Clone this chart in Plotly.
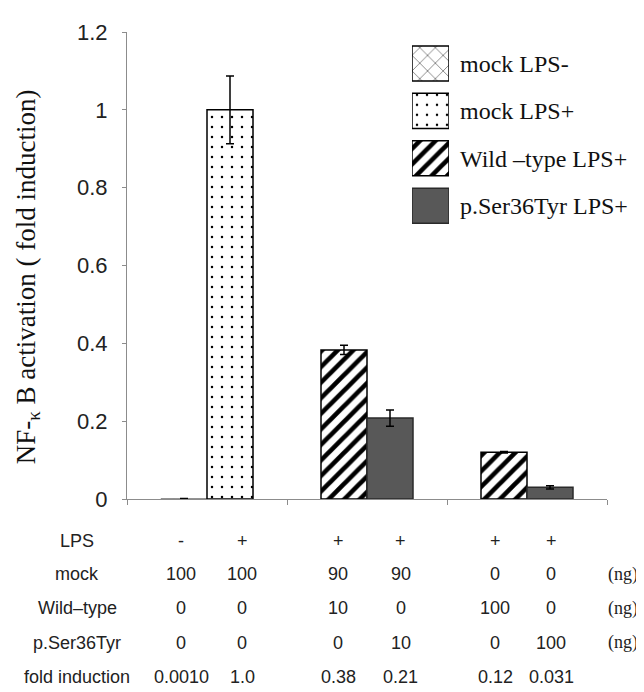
import plotly.graph_objects as go

# ---------------- data ----------------
groups = [0, 1, 2]
series_names = ["mock LPS-", "mock LPS+", "Wild \u2013type LPS+", "p.Ser36Tyr LPS+"]
mock_minus_x = [0]
mock_minus_y = [0.001]
mock_minus_err = [0.0]
mock_plus_x = [0]
mock_plus_y = [1.0]
mock_plus_err = [0.087]
wt_x = [1, 2]
wt_y = [0.383, 0.12]
wt_err = [0.012, 0.002]
mut_x = [1, 2]
mut_y = [0.208, 0.03]
mut_err = [0.021, 0.004]

row_labels = ["LPS", "mock", "Wild\u2013type", "p.Ser36Tyr", "fold induction"]
lps_row = ["-", "+", "+", "+", "+", "+"]
mock_row = ["100", "100", "90", "90", "0", "0"]
wt_row = ["0", "0", "10", "0", "100", "0"]
mut_row = ["0", "0", "0", "10", "0", "100"]
fold_row = ["0.0010", "1.0", "0.38", "0.21", "0.12", "0.031"]
unit_rows = ["", "(ng)", "(ng)", "(ng)", ""]

# ---------------- layout constants ----------------
# the page body has an 8px margin, so the figure starts at (8, 8) in the window
OX, OY = 8, 8
W, H = 644 - OX, 692 - OY
AX_L, AX_R, AX_T, AX_B = 127, 607, 21, 499          # plot area in window pixels
L, T = AX_L - OX, AX_T - OY
R, B = W - (AX_R - OX), H - (AX_B - OY)
PW, PH = AX_R - AX_L, AX_B - AX_T
BAR_W = 0.2875
col_x = [-0.16, 0.22, 0.82, 1.21, 1.80, 2.15]   # table column centres (x data units)
row_px = [542, 576, 611, 646, 681]               # table row centres (window pixels)


def px_x(p):
    return (p - AX_L) / PW


def px_y(p):
    return (AX_B - p) / PH


SERIF = "Liberation Serif"
SANS = "Liberation Sans"

styles = {
    "mock LPS-": dict(color="white", line=dict(color="black", width=1.5),
                      pattern=dict(shape="x", fgcolor="#707070", bgcolor="white", size=11,
                                   solidity=0.14, fgopacity=1)),
    "mock LPS+": dict(color="white", line=dict(color="black", width=1.5),
                      pattern=dict(shape=".", fgcolor="black", bgcolor="white", size=10,
                                   solidity=0.05, fgopacity=1)),
    "Wild \u2013type LPS+": dict(color="white", line=dict(color="black", width=1.5),
                      pattern=dict(shape="/", fgcolor="black", bgcolor="white", size=11,
                                   solidity=0.42, fgopacity=1)),
    "p.Ser36Tyr LPS+": dict(color="#585858", line=dict(color="#2a2a2a", width=1.5)),
}

err_style = dict(type="data", color="black", thickness=1.5, width=4, visible=True)

fig = go.Figure()


def add_series(name, xs, ys, errs, offset, line=None):
    mk = dict(styles[name])
    if line is not None:
        mk["line"] = line
    fig.add_trace(go.Bar(
        x=xs, y=ys, name=name, width=BAR_W, offset=offset,
        marker=mk,
        error_y=dict(array=errs, **err_style),
        showlegend=False,
    ))


add_series(series_names[0], mock_minus_x, mock_minus_y, mock_minus_err, -BAR_W,
           line=dict(color="#8c8c8c", width=1))
add_series(series_names[1], mock_plus_x, mock_plus_y, mock_plus_err, 0)
add_series(series_names[2], wt_x, wt_y, wt_err, -BAR_W)
add_series(series_names[3], mut_x, mut_y, mut_err, 0)

# legend patches drawn as bars in a small helper axis
for name in series_names:
    fig.add_trace(go.Bar(
        x=[1], y=[name], orientation="h", width=0.74,
        marker=styles[name], xaxis="x2", yaxis="y2",
        showlegend=False, hoverinfo="skip",
    ))

axis_col = "#8c8c8c"
fig.update_layout(
    width=W, height=H,
    margin=dict(l=L, r=R, t=T, b=B),
    paper_bgcolor="white", plot_bgcolor="white",
    barmode="overlay",
    showlegend=False,
    xaxis=dict(range=[-0.5, 2.5], tickvals=[-0.5, 0.5, 1.5, 2.5], ticktext=["", "", "", ""],
               ticks="outside", ticklen=5, tickcolor=axis_col, showline=True, linecolor=axis_col,
               linewidth=1, showgrid=False, zeroline=False, fixedrange=True),
    yaxis=dict(range=[0, 1.2], dtick=0.2, tick0=0, ticks="outside", ticklen=4, tickcolor=axis_col,
               showline=True, linecolor=axis_col, linewidth=1, showgrid=False, zeroline=False,
               tickfont=dict(family=SANS, size=22, color="#222"), ticklabelstandoff=10),
    xaxis2=dict(domain=[px_x(412), px_x(449)], range=[0, 1], visible=False,
                anchor="y2", fixedrange=True),
    yaxis2=dict(domain=[px_y(223), px_y(29)], type="category",
                categoryorder="array", categoryarray=series_names[::-1], anchor="x2", side="right",
                showline=False, showgrid=False, zeroline=False, ticks="",
                tickfont=dict(family=SERIF, size=24, color="#111"), ticklabelstandoff=10),
)

# y-axis title
fig.add_annotation(
    text="NF-<sub>\u03ba</sub> B activation ( fold induction)",
    xref="paper", yref="paper", x=px_x(28), y=px_y(272),
    textangle=-90, showarrow=False, xanchor="center", yanchor="middle",
    font=dict(family=SERIF, size=27, color="#111"),
)

# table below the chart
table_rows = [lps_row, mock_row, wt_row, mut_row, fold_row]
for r, (label, vals, unit) in enumerate(zip(row_labels, table_rows, unit_rows)):
    yp = px_y(row_px[r])
    fig.add_annotation(text=label, xref="paper", yref="paper", x=px_x(77), y=yp,
                       showarrow=False, xanchor="center", yanchor="middle",
                       font=dict(family=SANS, size=18, color="#222"))
    for cx, v in zip(col_x, vals):
        fig.add_annotation(text=v, xref="x", yref="paper", x=cx, y=yp,
                           showarrow=False, xanchor="center", yanchor="middle",
                           font=dict(family=SANS, size=18, color="#222"))
    if unit:
        fig.add_annotation(text=unit, xref="paper", yref="paper", x=px_x(640), y=yp,
                           showarrow=False, xanchor="right", yanchor="middle",
                           font=dict(family=SERIF, size=18, color="#222"))

fig.write_html("out.html")
